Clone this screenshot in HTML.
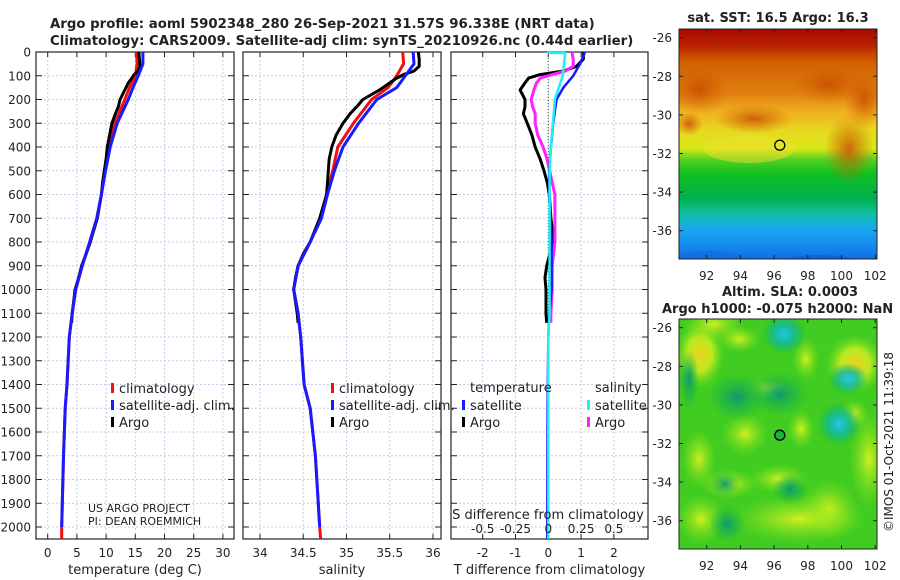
<!DOCTYPE html>
<html><head><meta charset="utf-8"><style>
body{margin:0;background:#fff;}
svg{display:block;font-family:"DejaVu Sans","Liberation Sans",sans-serif;}
</style></head><body>
<svg id="c" width="900" height="580" viewBox="0 0 900 580" xmlns="http://www.w3.org/2000/svg">
<defs>
<linearGradient id="sstg" x1="0" y1="0" x2="0" y2="1">
<stop offset="0" stop-color="#a80800"/><stop offset="0.07" stop-color="#b82000"/>
<stop offset="0.14" stop-color="#d06000"/><stop offset="0.28" stop-color="#e08010"/>
<stop offset="0.36" stop-color="#f0b020"/><stop offset="0.44" stop-color="#e8d820"/>
<stop offset="0.52" stop-color="#d8e818"/><stop offset="0.57" stop-color="#50d020"/>
<stop offset="0.63" stop-color="#10c020"/><stop offset="0.74" stop-color="#00b050"/>
<stop offset="0.8" stop-color="#10c0a0"/><stop offset="0.87" stop-color="#18a8f0"/>
<stop offset="1" stop-color="#1070e8"/>
</linearGradient>
<radialGradient id="yb"><stop offset="0" stop-color="#f0d020"/><stop offset="0.5" stop-color="#d8f020" stop-opacity="0.8"/><stop offset="1" stop-color="#70e020" stop-opacity="0"/></radialGradient>
<radialGradient id="lb"><stop offset="0" stop-color="#d0f020"/><stop offset="1" stop-color="#80e020" stop-opacity="0"/></radialGradient>
<radialGradient id="cb"><stop offset="0" stop-color="#20c8e8"/><stop offset="0.5" stop-color="#10b8a0" stop-opacity="0.8"/><stop offset="1" stop-color="#10b060" stop-opacity="0"/></radialGradient>
<radialGradient id="tb"><stop offset="0" stop-color="#109a70"/><stop offset="1" stop-color="#10b050" stop-opacity="0"/></radialGradient>
<radialGradient id="ob"><stop offset="0" stop-color="#c84800"/><stop offset="1" stop-color="#d06000" stop-opacity="0"/></radialGradient>
</defs>
<g id="root"></g>
</svg>
<script>
// ---- data ----
const depthTicks=[0,100,200,300,400,500,600,700,800,900,1000,1100,1200,1300,1400,1500,1600,1700,1800,1900,2000];
const tTicks=[0,5,10,15,20,25,30];
const sTicks=[34,34.5,35,35.5,36];
const dTTicks=[-2,-1,0,1,2];
const dSTicks=[-0.5,-0.25,0,0.25,0.5];
const latTicks=[-26,-28,-30,-32,-34,-36];
const lonTicks=[92,94,96,98,100,102];

const climDepth=[0,50,100,150,200,300,400,500,600,700,800,900,1000,1100,1200,1400,1500,1700,2000,2050];
const tempClim=[15.2,15.3,15.0,14.0,13.2,11.5,10.5,9.8,9.2,8.4,7.2,5.9,4.8,4.2,3.7,3.3,3.0,2.7,2.4,2.4];
const tempSat =[16.3,16.3,15.5,14.6,13.8,11.9,10.7,9.9,9.2,8.4,7.2,5.9,4.8,4.2,3.7,3.3,3.0,2.7,2.4];
const salClim=[35.65,35.66,35.58,35.48,35.29,35.08,34.90,34.84,34.77,34.70,34.58,34.44,34.39,34.44,34.47,34.51,34.58,34.64,34.69,34.70];
const salSat =[35.77,35.78,35.68,35.58,35.35,35.14,34.96,34.86,34.78,34.71,34.58,34.44,34.39,34.44,34.47,34.51,34.58,34.64,34.69];
const argoDepth=[0,30,60,80,95,110,130,160,200,230,260,300,350,400,450,500,550,600,700,800,850,900,950,1000,1100,1140];
const tempArgo=[15.6,15.7,15.8,15.5,14.8,14.4,13.8,13.2,12.4,12.1,11.6,11.0,10.6,10.2,10.0,9.7,9.4,9.2,8.5,7.3,6.6,5.8,5.3,4.7,4.2,4.1];
const salArgo=[35.83,35.84,35.84,35.78,35.66,35.58,35.50,35.38,35.19,35.12,35.04,34.96,34.88,34.83,34.80,34.79,34.78,34.77,34.69,34.58,34.50,34.44,34.41,34.39,34.43,34.44];
const dTArgo=[1.07,1.07,0.86,0.46,-0.25,-0.6,-0.71,-0.86,-0.71,-0.71,-0.76,-0.64,-0.5,-0.4,-0.25,-0.13,-0.03,0.03,0.08,0.17,0.05,-0.05,-0.1,-0.07,-0.07,-0.05];
const dSArgo=[0.18,0.19,0.19,0.13,0.03,-0.06,-0.09,-0.11,-0.13,-0.12,-0.10,-0.10,-0.08,-0.04,-0.01,0.01,0.03,0.05,0.05,0.05,0.04,0.03,0.03,0.03,0.02,0.02];
const satDiffDepth=[0,50,100,150,200,300,400,500,600,800,1000,1100,1200,1500,2000,2050];
const dTSat=[1.12,0.97,0.76,0.46,0.25,0.15,0.08,0.03,0.03,0.1,0.1,0.03,0,-0.02,-0.03,-0.03];
const dSSat=[0.13,0.12,0.11,0.08,0.05,0.035,0.02,0.01,0.01,0.01,0.01,0.01,0,0,0,0];
const argoLat=-31.57, argoLon=96.338;

// ---- scales ----
const yD=d=>52+d*0.2375;
const xT=t=>47.7+t*5.84;
const xS=s=>260+(s-34)*86.5;
const xDT=v=>548.3+v*32.8;
const xDS=v=>548.3+v*131.2;
const mapLon=l=>706.7+(l-92)*16.85;
const mapLat1=l=>37.7+(-26-l)*19.3;
const mapLat2=l=>327.7+(-26-l)*19.3;

const NS='http://www.w3.org/2000/svg';
const root=document.getElementById('root');
function mk(tag,attrs,parent){const e=document.createElementNS(NS,tag);for(const k in attrs)e.setAttribute(k,attrs[k]);(parent||root).appendChild(e);return e;}
function txt(x,y,s,size,anchor,weight,parent){const e=mk('text',{x:x,y:y,'font-size':size,'text-anchor':anchor||'start','font-weight':weight||'normal',fill:'#222'},parent);e.textContent=s;return e;}

// titles
let e;
e=txt(50,28,'Argo profile: aoml 5902348_280 26-Sep-2021 31.57S 96.338E (NRT data)',13.3,'start','bold');


e=txt(50,45,'Climatology: CARS2009. Satellite-adj clim: synTS_20210926.nc (0.44d earlier)',13.3,'start','bold');



function panel(name,x0,x1,xticks,xf,labels,xtitle){
  const g=mk('g',{});
  
  
  depthTicks.forEach(d=>mk('line',{x1:x0,x2:x1,y1:yD(d),y2:yD(d),stroke:'#c8cce8','stroke-width':1,'stroke-dasharray':'2,2'},g));
  xticks.forEach(v=>mk('line',{x1:xf(v),x2:xf(v),y1:52,y2:539,stroke:'#c8cce8','stroke-width':1,'stroke-dasharray':'2,2'},g));
  mk('rect',{x:x0,y:52,width:x1-x0,height:487,fill:'none',stroke:'#222','stroke-width':1.2},g);
  depthTicks.forEach(d=>{mk('line',{x1:x0,x2:x0+6,y1:yD(d),y2:yD(d),stroke:'#222'},g);mk('line',{x1:x1-6,x2:x1,y1:yD(d),y2:yD(d),stroke:'#222'},g);});
  xticks.forEach(v=>{mk('line',{x1:xf(v),x2:xf(v),y1:539,y2:534,stroke:'#222'},g);mk('line',{x1:xf(v),x2:xf(v),y1:52,y2:57,stroke:'#222'},g);});
  if(labels) xticks.forEach(v=>txt(xf(v),557,String(v),12,'middle','normal',g));
  if(xtitle){const t=txt((x0+x1)/2,574,xtitle,13,'middle','normal',g);}
  return g;
}
function line(g,xs,ds,xf,color,w,name){
  const p=xs.map((v,i)=>xf(v).toFixed(1)+','+yD(ds[i]).toFixed(1)).join(' ');
  const l=mk('polyline',{points:p,fill:'none',stroke:color,'stroke-width':w,'stroke-linejoin':'round'},g);
  
  
}
const p1=panel('temperature-panel',36,234,tTicks,xT,true,'temperature (deg C)');
depthTicks.forEach(d=>txt(31,yD(d)+4.5,String(d),12,'end','normal',p1));
line(p1,tempClim,climDepth,xT,'#f01010',3,'temperature-climatology-line');
line(p1,tempArgo,argoDepth,xT,'#000',3,'temperature-argo-line');
line(p1,tempSat,climDepth.slice(0,tempSat.length),xT,'#1a1aff',3,'temperature-satellite-line');

const p2=panel('salinity-panel',243,441,sTicks,xS,true,'salinity');
line(p2,salClim,climDepth,xS,'#f01010',3,'salinity-climatology-line');
line(p2,salArgo,argoDepth,xS,'#000',3,'salinity-argo-line');
line(p2,salSat,climDepth.slice(0,salSat.length),xS,'#1a1aff',3,'salinity-satellite-line');

const p3=panel('difference-panel',451,648,dTTicks,xDT,true,'T difference from climatology');
mk('line',{x1:548.3,x2:548.3,y1:52,y2:539,stroke:'#3a5a20','stroke-width':1,'stroke-dasharray':'1,2'},p3);
line(p3,dTArgo,argoDepth,xDT,'#000',3,'temp-diff-argo-line');
line(p3,dSArgo,argoDepth,xDS,'#ff20ff',3,'sal-diff-argo-line');
line(p3,dTSat,satDiffDepth,xDT,'#1a1aff',2.5,'temp-diff-satellite-line');
line(p3,dSSat,satDiffDepth,xDS,'#20f0f0',2.5,'sal-diff-satellite-line');
mk('line',{x1:xDS(-0.01),x2:xDS(0.13),y1:53,y2:53,stroke:'#20f0f0','stroke-width':2.5},p3);
let st=txt(548,519,'S difference from climatology',13,'middle','normal',p3);


dSTicks.forEach(v=>txt(xDS(v),533,String(v),12,'middle','normal',p3));

// legends
function legend(g,x,y,color,label,name){
  const lg=mk('g',{},g);
  
  
  mk('rect',{x:x,y:y-9,width:3,height:10,fill:color},lg);
  txt(x+8,y+1,label,13,'start','normal',lg);
}
legend(p1,111,392,'#f01010','climatology','legend-climatology');
legend(p1,111,409,'#1a1aff','satellite-adj. clim.','legend-satellite-adj');
legend(p1,111,426,'#000','Argo','legend-argo');
legend(p2,331,392,'#f01010','climatology','legend-climatology');
legend(p2,331,409,'#1a1aff','satellite-adj. clim.','legend-satellite-adj');
legend(p2,331,426,'#000','Argo','legend-argo');
txt(470,392,'temperature',13,'start','normal',p3);
txt(595,392,'salinity',13,'start','normal',p3);
legend(p3,462,409,'#1a1aff','satellite','legend-temp-satellite');
legend(p3,462,426,'#000','Argo','legend-temp-argo');
legend(p3,587,409,'#20f0f0','satellite','legend-sal-satellite');
legend(p3,587,426,'#ff20ff','Argo','legend-sal-argo');
txt(88,512,'US ARGO PROJECT',11,'start','normal',p1);
txt(88,525,'PI: DEAN ROEMMICH',11,'start','normal',p1);

// maps
function mapAxes(g,y0,latf,labY){
  latTicks.forEach(l=>{txt(672,latf(l)+4.5,String(l),12,'end','normal',g);mk('line',{x1:679,x2:683,y1:latf(l),y2:latf(l),stroke:'#222'},g);mk('line',{x1:873,x2:877,y1:latf(l),y2:latf(l),stroke:'#222'},g);});
  lonTicks.forEach(l=>{txt(mapLon(l),labY,String(l),12,'middle','normal',g);mk('line',{x1:mapLon(l),x2:mapLon(l),y1:y0+230,y2:y0+226,stroke:'#222'},g);mk('line',{x1:mapLon(l),x2:mapLon(l),y1:y0,y2:y0+4,stroke:'#222'},g);});
  mk('rect',{x:679,y:y0,width:198,height:230,fill:'none',stroke:'#222','stroke-width':1},g);
}
const m1=mk('g',{});


mk('svg',{x:679,y:29,width:198,height:230,overflow:'hidden'},m1);
const m1c=m1.lastChild;
mk('rect',{x:0,y:0,width:198,height:230,fill:'url(#sstg)'},m1c);
[[20,60,30,25],[150,55,35,20],[185,70,20,30],[10,95,14,12],[170,120,25,35],[75,90,40,15]].forEach(b=>mk('ellipse',{cx:b[0],cy:b[1],rx:b[2],ry:b[3],fill:'url(#ob)',opacity:0.8},m1c));
mk('ellipse',{cx:70,cy:120,rx:45,ry:14,fill:'#f0e030',opacity:0.5},m1c);
mk('ellipse',{cx:140,cy:248,rx:60,ry:22,fill:'#1050d8',opacity:0.5},m1c);
mk('ellipse',{cx:30,cy:232,rx:40,ry:10,fill:'#1060e0',opacity:0.35},m1c);
txt(778,22,'sat. SST: 16.5 Argo: 16.3',13,'middle','bold',m1);
mapAxes(m1,29,mapLat1,280);
mk('circle',{cx:mapLon(argoLon),cy:mapLat1(argoLat),r:5,fill:'none',stroke:'#000','stroke-width':1.3},m1);

const m2=mk('g',{});


mk('svg',{x:679,y:319,width:198,height:230,overflow:'hidden'},m2);
const m2c=m2.lastChild;
mk('rect',{x:0,y:0,width:198,height:230,fill:'#40cc20'},m2c);
[[21,35,25,35,'yb'],[176,45,30,30,'yb'],[35,5,30,18,'lb'],[127,40,14,22,'lb'],[60,20,22,14,'lb'],[66,115,24,22,'lb'],[122,110,14,20,'lb'],[150,190,30,30,'lb'],[120,200,70,25,'lb'],[22,200,25,25,'lb'],[50,165,30,15,'lb'],[100,160,30,15,'lb'],[190,140,20,50,'lb'],[20,140,18,30,'lb'],[175,95,15,15,'lb'],[90,70,20,10,'lb'],
  [105,15,22,20,'cb'],[169,60,20,16,'cb'],[160,105,22,22,'cb'],[58,78,28,24,'tb'],[100,75,30,22,'tb'],[111,170,18,16,'tb'],[46,165,15,12,'tb'],[48,205,18,18,'tb'],[10,60,10,30,'tb']].forEach(b=>mk('ellipse',{cx:b[0],cy:b[1],rx:b[2],ry:b[3],fill:'url(#'+b[4]+')'},m2c));
txt(722,296,'Altim. SLA: 0.0003',13,'start','bold',m2);
txt(662,313,'Argo h1000: -0.075 h2000: NaN',13,'start','bold',m2);
mapAxes(m2,319,mapLat2,570);
mk('circle',{cx:mapLon(argoLon),cy:mapLat2(argoLat),r:5,fill:'#20b040',stroke:'#000','stroke-width':1.3},m2);
const cr=txt(0,0,'©IMOS 01-Oct-2021 11:39:18',12,'middle','normal');
cr.setAttribute('transform','translate(893,442) rotate(-90)');


</script>
</body></html>
